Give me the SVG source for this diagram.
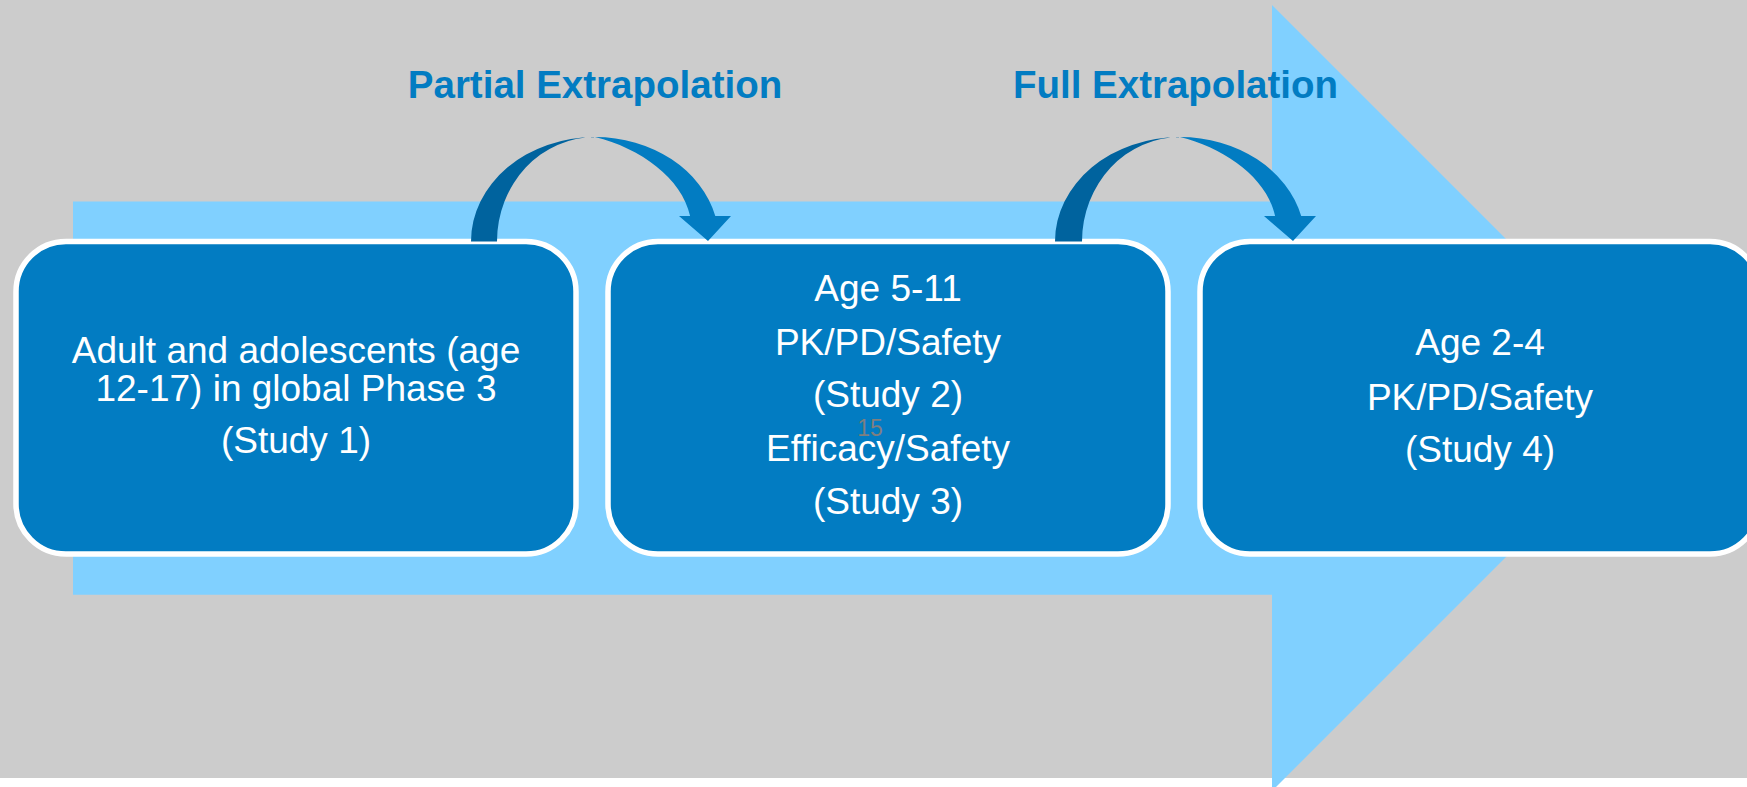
<svg xmlns="http://www.w3.org/2000/svg" width="1747" height="787" viewBox="0 0 1747 787">
  <style>
    .box { fill: #027cc2; stroke: #ffffff; stroke-width: 5.5; }
    .label { font-family: "Liberation Sans", Arial, sans-serif; font-size: 37px; fill: #ffffff; text-anchor: middle; }
    .title { font-family: "Liberation Sans", Arial, sans-serif; font-size: 38.5px; font-weight: bold; fill: #027cc2; text-anchor: middle; }
    .back { fill: #00639e; }
    .front { fill: #027cc2; }
  </style>

  <!-- page background -->
  <rect x="0" y="0" width="1747" height="787" fill="#ffffff"/>
  <rect x="0" y="0" width="1747" height="778" fill="#cccccc"/>

  <!-- big progression arrow behind the stages -->
  <path id="progression-arrow" d="M73,201.5 H1272 V5 L1665,398 L1272,791 V594.7 H73 Z" fill="#80d0ff"/>

  <!-- section titles -->
  <text class="title" x="595" y="98">Partial Extrapolation</text>
  <text class="title" x="1175.5" y="98">Full Extrapolation</text>

  <!-- stage 1 -->
  <g id="study1">
    <rect class="box" x="16" y="241.5" width="560" height="312.5" rx="50" ry="50"/>
    <text class="label" x="296" y="362.7">Adult and adolescents (age</text>
    <text class="label" x="296" y="401">12-17) in global Phase 3</text>
    <text class="label" x="296" y="453.3">(Study 1)</text>
  </g>

  <!-- stage 2 -->
  <g id="study2-3">
    <rect class="box" x="608" y="241.5" width="560" height="312.5" rx="50" ry="50"/>
    <text class="label" x="888" y="301">Age 5-11</text>
    <text class="label" x="888" y="355">PK/PD/Safety</text>
    <text class="label" x="888" y="407">(Study 2)</text>
    <text class="label" x="888" y="461">Efficacy/Safety</text>
    <text class="label" x="888" y="514">(Study 3)</text>
  </g>

  <!-- stage 3 -->
  <g id="study4">
    <rect class="box" x="1200" y="241.5" width="560" height="312.5" rx="50" ry="50"/>
    <text class="label" x="1480" y="355">Age 2-4</text>
    <text class="label" x="1480" y="410">PK/PD/Safety</text>
    <text class="label" x="1480" y="462">(Study 4)</text>
  </g>

  <!-- slide number -->
  <text x="870" y="436" font-family="Liberation Sans, Arial, sans-serif" font-size="23" fill="#7f7f7f" text-anchor="middle">15</text>

  <!-- curved connectors between stages: darker back half, lighter front half with head -->
  <g id="connectors">
    <g id="partial-arrow">
      <path class="back" d="M471,241.5 A124,104.5 0 0 1 595,137 A98,104.5 0 0 0 497,241.5 Z"/>
      <path class="front" d="M595,137 A124,104.5 0 0 1 715.3,216 L731,216 L708,241 L679,216 L690.1,216 C682,178 640,148 595,137 Z"/>
    </g>
    <g id="full-arrow">
      <path class="back" d="M1055,241.5 A125,104.5 0 0 1 1180,137 A98,104.5 0 0 0 1082,241.5 Z"/>
      <path class="front" d="M1180,137 A125,104.5 0 0 1 1301.2,216 L1316,216 L1293,241 L1264,216 L1275.1,216 C1267,178 1225,148 1180,137 Z"/>
    </g>
  </g>
</svg>
